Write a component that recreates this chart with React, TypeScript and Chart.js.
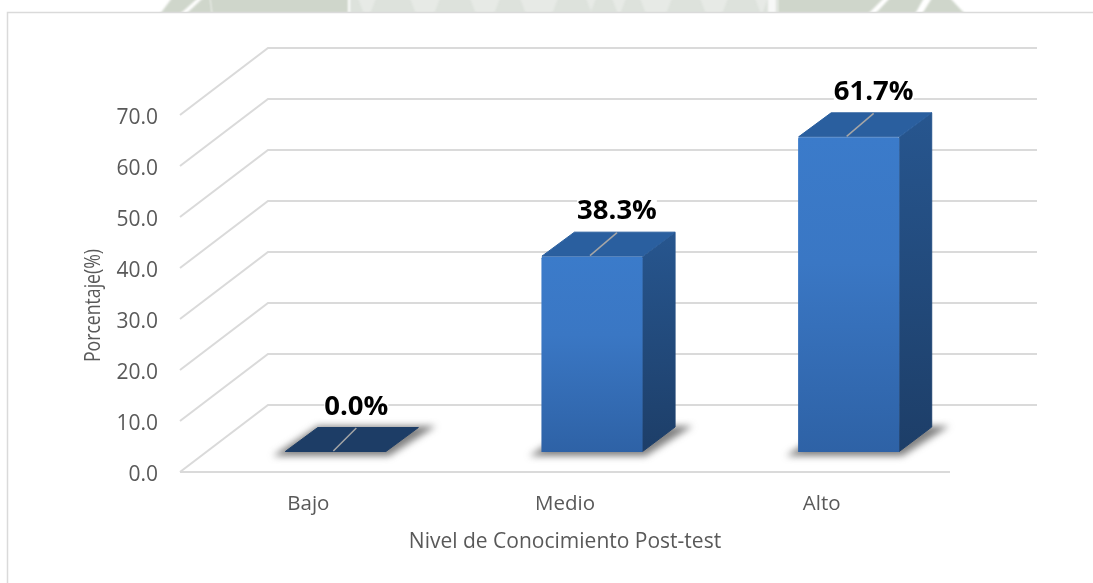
import React, { useEffect, useRef } from "react";
import { Chart, registerables } from "chart.js";

Chart.register(...registerables);

const categories = ["Bajo", "Medio", "Alto"];
const porcentaje = [0.0, 38.3, 61.7];
const yTicks = [0, 10, 20, 30, 40, 50, 60, 70];
const xTitle = "Nivel de Conocimiento Post-test";
const yTitle = "Porcentaje(%)";

const FONT = "'Open Sans', 'Noto Sans', sans-serif";
const GRID = "#DADADA";
const TEXT = "#595959";

// oblique projection of the 3D box
const WALL = { dx: 88, dy: 67 };
const BAR_OFFSET = { dx: 27, dy: 20 };
const BAR_DEPTH = { dx: 33, dy: 25 };

// decoration: the strip of the page's watermark showing above the chart frame
function drawWatermark(ctx: CanvasRenderingContext2D) {
  ctx.save();
  ctx.beginPath();
  ctx.rect(0, 0, 1093, 12);
  ctx.clip();
  ctx.filter = "blur(1.2px)";
  const solid = "#CFD6CB";
  const poly = (pts: number[][], c: string) => {
    ctx.fillStyle = c;
    ctx.beginPath();
    pts.forEach((p, i) => (i ? ctx.lineTo(p[0], p[1]) : ctx.moveTo(p[0], p[1])));
    ctx.closePath();
    ctx.fill();
  };
  poly([[172, -2], [198, -2], [180, 14], [160, 14]], solid);
  poly([[203, -2], [210, -2], [212, 14], [186, 14]], solid);
  poly([[210, -2], [348, -2], [348, 14], [212, 14]], solid);
  poly([[350, -2], [778, -2], [778, 14], [350, 14]], "#DDE2DC");
  [[358, 376], [410, 440], [470, 500], [520, 558], [586, 596], [612, 626], [640, 672], [700, 728], [755, 768]].forEach(
    ([a, b]) => poly([[a, -2], [b, -2], [b - 6, 14], [a + 6, 14]], "#E7EAE6")
  );
  poly([[768, -2], [776, -2], [776, 14], [768, 14]], "#F7F8F7");
  poly([[778, -2], [884, -2], [868, 14], [778, 14]], solid);
  poly([[890, -2], [924, -2], [915, 14], [875, 14]], solid);
  poly([[932, -2], [950, -2], [965, 14], [922, 14]], solid);
  ctx.restore();
}

const scene3d = {
  id: "scene3d",
  beforeDraw(chart: any) {
    const { ctx } = chart;
    ctx.save();
    ctx.fillStyle = "#fff";
    ctx.fillRect(0, 0, chart.width, chart.height);
    drawWatermark(ctx);
    ctx.strokeStyle = GRID;
    ctx.lineWidth = 1.5;
    ctx.beginPath();
    ctx.moveTo(7.5, chart.height);
    ctx.lineTo(7.5, 12.5);
    ctx.lineTo(chart.width, 12.5);
    ctx.stroke();
    ctx.restore();
  },
  beforeDatasetsDraw(chart: any) {
    const { ctx, chartArea, scales } = chart;
    const { left, right, bottom } = chartArea;
    ctx.save();
    ctx.strokeStyle = GRID;
    ctx.lineWidth = 2;
    // floor front edge
    ctx.beginPath();
    ctx.moveTo(left, bottom);
    ctx.lineTo(right, bottom);
    ctx.stroke();
    yTicks.forEach((t) => {
      const y = scales.y.getPixelForValue(t);
      ctx.beginPath();
      ctx.moveTo(left, y);
      ctx.lineTo(left + WALL.dx, y - WALL.dy);
      ctx.lineTo(right + WALL.dx - 1, y - WALL.dy);
      ctx.stroke();
    });
    ctx.restore();

    // floor shadows and the side and top faces of every bar
    const meta = chart.getDatasetMeta(0);
    meta.data.forEach((bar: any, i: number) => {
      const x0 = bar.x - bar.width / 2 + BAR_OFFSET.dx;
      const x1 = bar.x + bar.width / 2 + BAR_OFFSET.dx;
      const base = scales.y.getPixelForValue(0) - BAR_OFFSET.dy;
      const top = bar.y - BAR_OFFSET.dy;
      const d = BAR_DEPTH;
      ctx.save();
      ctx.filter = "blur(3.5px)";
      ctx.fillStyle = "rgba(70,70,70,0.68)";
      ctx.beginPath();
      ctx.moveTo(x0 - 12, base + 4);
      ctx.lineTo(x1 + 3, base + 4);
      ctx.lineTo(x1 + d.dx + 17, base - d.dy - 1);
      ctx.lineTo(x0 + d.dx, base - d.dy - 1);
      ctx.closePath();
      ctx.fill();
      ctx.restore();

      ctx.save();
      ctx.lineJoin = "round";
      ctx.lineWidth = 1;
      if (porcentaje[i] > 0) {
        const side = ctx.createLinearGradient(0, top - d.dy, 0, base);
        side.addColorStop(0, "#27568F");
        side.addColorStop(1, "#1D3E68");
        ctx.fillStyle = side;
        ctx.strokeStyle = side;
        ctx.beginPath();
        ctx.moveTo(x1, top);
        ctx.lineTo(x1 + d.dx - 0.5, top - d.dy + 0.5);
        ctx.lineTo(x1 + d.dx - 0.5, base - d.dy);
        ctx.lineTo(x1, base - 0.5);
        ctx.closePath();
        ctx.fill();
        ctx.stroke();
      }
      const topColor = porcentaje[i] > 0 ? "#2A5F9F" : "#1D3D66";
      ctx.fillStyle = topColor;
      ctx.strokeStyle = topColor;
      ctx.beginPath();
      ctx.moveTo(x0 + 0.5, top - 0.5);
      ctx.lineTo(x0 + d.dx, top - d.dy + 0.5);
      ctx.lineTo(x1 + d.dx - 0.5, top - d.dy + 0.5);
      ctx.lineTo(x1, top - 0.5);
      ctx.closePath();
      ctx.fill();
      ctx.stroke();
      ctx.restore();
    });
  },
  beforeDatasetDraw(chart: any) {
    chart.ctx.save();
    chart.ctx.translate(BAR_OFFSET.dx, -BAR_OFFSET.dy);
  },
  afterDatasetDraw(chart: any) {
    chart.ctx.restore();
  },
  afterDatasetsDraw(chart: any) {
    const { ctx, chartArea } = chart;
    const meta = chart.getDatasetMeta(0);
    ctx.save();
    meta.data.forEach((bar: any, i: number) => {
      const cx = bar.x + BAR_OFFSET.dx;
      const top = bar.y - BAR_OFFSET.dy;
      const back = top - BAR_DEPTH.dy;
      const shift = porcentaje[i] > 0 ? 25 : 21;
      // leader line
      ctx.strokeStyle = "#A6A6A6";
      ctx.lineWidth = 1.5;
      ctx.beginPath();
      ctx.moveTo(cx - 2, top - 1);
      ctx.lineTo(cx + shift, back + 1);
      ctx.stroke();
      // value label
      const text = porcentaje[i].toFixed(1) + "%";
      const lx = cx + shift;
      const ly = back - 20;
      ctx.font = `bold 27.5px ${FONT}`;
      ctx.textAlign = "center";
      ctx.textBaseline = "middle";
      const w = ctx.measureText(text).width;
      ctx.fillStyle = "#fff";
      ctx.fillRect(lx - w / 2, ly - 12, w, 24);
      ctx.fillStyle = "#000";
      ctx.fillText(text, lx, ly);
    });
    // y axis title
    ctx.save();
    ctx.translate(94, (chartArea.top + chartArea.bottom) / 2 + 12);
    ctx.rotate(-Math.PI / 2);
    ctx.font = `21px ${FONT}`;
    const tw = ctx.measureText(yTitle).width;
    ctx.scale(113 / tw, 1);
    ctx.fillStyle = TEXT;
    ctx.textAlign = "center";
    ctx.textBaseline = "middle";
    ctx.fillText(yTitle, 0, 0);
    ctx.restore();
    ctx.restore();
  },
};

export default function App() {
  const ref = useRef<HTMLCanvasElement>(null);
  useEffect(() => {
    const chart = new Chart(ref.current!, {
      type: "bar",
      data: {
        labels: categories,
        datasets: [
          {
            label: "Porcentaje",
            data: porcentaje,
            barPercentage: 0.394,
            categoryPercentage: 1,
            borderRadius: 1.5,
            backgroundColor: (c: any) => {
              const { chart: ch } = c;
              if (!ch.chartArea || !ch.scales.y) return "#3A78C5";
              const y0 = ch.scales.y.getPixelForValue(c.raw ?? 0);
              const y1 = ch.scales.y.getPixelForValue(0);
              const g = ch.ctx.createLinearGradient(0, y0, 0, y1);
              g.addColorStop(0, "#3B7BCA");
              g.addColorStop(0.4, "#3A77C4");
              g.addColorStop(1, "#2E62A6");
              return g;
            },
          },
        ],
      },
      options: {
        responsive: false,
        animation: false,
        layout: { padding: { left: 0, top: 115, right: 143, bottom: 0 } },
        plugins: { legend: { display: false }, tooltip: { enabled: false }, title: { display: false } },
        scales: {
          x: {
            grid: { display: false },
            border: { display: false },
            ticks: { color: TEXT, font: { family: FONT, size: 20.5 }, padding: 12, maxRotation: 0 },
            title: {
              display: true,
              text: xTitle,
              color: TEXT,
              font: { family: FONT, size: 21 },
              padding: { top: 0, bottom: 28 },
            },
            afterFit: (s: any) => {
              s.height = 111;
            },
          },
          y: {
            min: 0,
            max: 70,
            grid: { display: false },
            border: { display: false },
            ticks: {
              stepSize: 10,
              color: TEXT,
              font: { family: FONT, size: 21 },
              padding: 14,
              labelOffset: 3,
              callback: (v: any) => Number(v).toFixed(1),
            },
            afterFit: (s: any) => {
              s.width = 180;
            },
          },
        },
      },
      plugins: [scene3d],
    } as any);
    return () => chart.destroy();
  }, []);
  return (
    <div style={{ position: "absolute", left: 0, top: 0, width: 1093, height: 583 }}>
      <canvas ref={ref} width={1093} height={583} style={{ display: "block" }} />
    </div>
  );
}
